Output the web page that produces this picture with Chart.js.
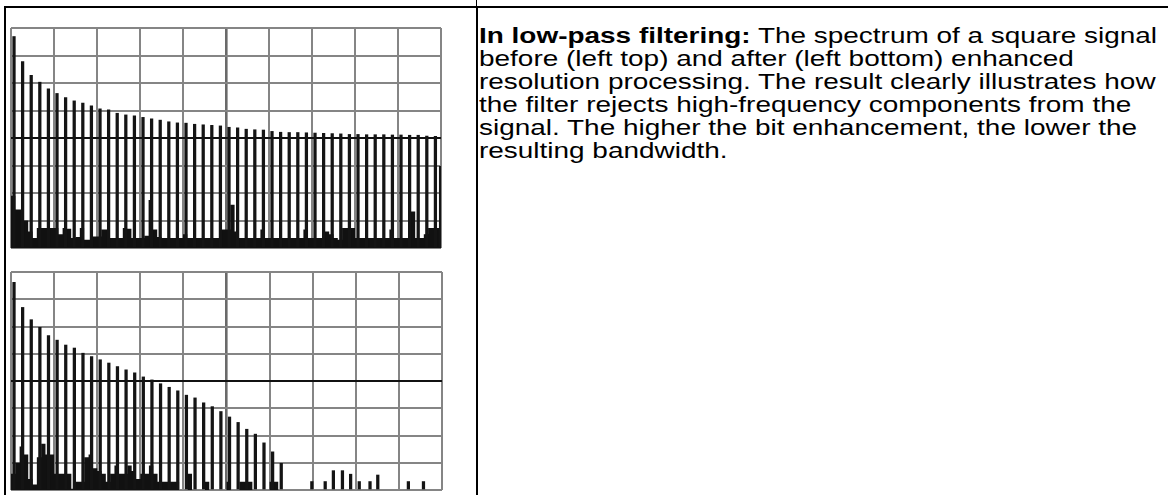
<!DOCTYPE html>
<html>
<head>
<meta charset="utf-8">
<script src="https://cdn.jsdelivr.net/npm/chart.js@4.4.1/dist/chart.umd.min.js"></script>
<style>
  body { margin:0; background:#fff; width:1168px; height:495px; overflow:hidden; position:relative;
         font-family:"Liberation Sans", Arial, Helvetica, sans-serif; }
  .rule { position:absolute; background:#000; }
  #topWrap { position:absolute; left:9px; top:26px; width:434px; height:224px; }
  #botWrap { position:absolute; left:9px; top:270px; width:435px; height:222px; }
  #caption { position:absolute; left:479px; top:24px; font-size:22px; line-height:23px; color:#000;
             white-space:nowrap; transform-origin:0 0; transform:scaleX(1.27); }
</style>
</head>
<body>
<div class="rule" style="left:4px;top:6px;width:1164px;height:2px"></div>
<div class="rule" style="left:4px;top:6px;width:2px;height:489px"></div>
<div class="rule" style="left:476px;top:0;width:1px;height:6px"></div>
<div class="rule" style="left:476px;top:6px;width:2px;height:489px"></div>

<div id="topWrap"><canvas id="topChart"></canvas></div>
<div id="botWrap"><canvas id="botChart"></canvas></div>

<div id="caption"><b>In low-pass filtering:</b> The spectrum of a square signal<br>before (left top) and after (left bottom) enhanced<br>resolution processing. The result clearly illustrates how<br>the filter rejects high-frequency components from the<br>signal. The higher the bit enhancement, the lower the<br>resulting bandwidth.</div>

<script>
// frequency axis in grid divisions (0..10), level axis in divisions (0..8)
const harmonicFreq = [0.07,0.27,0.47,0.67,0.87,1.07,1.27,1.47,1.67,1.87,2.07,2.27,2.47,2.67,2.87,3.07,3.27,3.47,3.67,3.87,
  4.07,4.27,4.47,4.67,4.87,5.07,5.27,5.47,5.67,5.87,6.07,6.27,6.47,6.67,6.87,7.07,7.27,7.47,7.67,7.87,
  8.07,8.27,8.47,8.67,8.87,9.07,9.27,9.47,9.67,9.87,9.99];

// before: square signal spectrum
const beforeLevels = [7.69,6.78,6.28,6.03,5.79,5.62,5.47,5.35,5.27,5.17,5.06,5.02,4.90,4.84,4.81,4.75,4.70,4.65,4.59,4.55,
  4.54,4.50,4.48,4.46,4.44,4.39,4.37,4.32,4.30,4.29,4.24,4.21,4.20,4.20,4.19,4.18,4.17,4.16,4.15,4.13,
  4.13,4.12,4.12,4.12,4.11,4.11,4.10,4.10,4.07,4.06,2.97];

// after: enhanced resolution (low-pass)
const afterLevels = [7.62,6.70,6.25,5.97,5.67,5.50,5.32,5.21,5.02,4.90,4.78,4.66,4.53,4.41,4.30,4.15,4.04,3.90,3.77,3.64,
  3.48,3.38,3.20,3.06,2.88,2.68,2.48,2.23,2.05,1.73,1.40,0.98];

const spurFreq = [6.98,7.29,7.48,7.69,7.88,8.08,8.33,8.51,9.22,9.57];
const spurLevels = [0.31,0.31,0.71,0.71,0.58,0.31,0.31,0.55,0.31,0.31];

const noiseFreq = [0,0.1,0.2,0.3,0.4,0.5,0.6,0.7,0.8,0.9,1,1.1,1.2,1.3,1.4,1.5,1.6,1.7,1.8,1.9,
  2,2.1,2.2,2.3,2.4,2.5,2.6,2.7,2.8,2.9,3,3.1,3.2,3.3,3.4,3.5,3.6,3.7,3.8,3.9,
  4,4.1,4.2,4.3,4.4,4.5,4.6,4.7,4.8,4.9,5,5.1,5.2,5.3,5.4,5.5,5.6,5.7,5.8,5.9,
  6,6.1,6.2,6.3,6.4,6.5,6.6,6.7,6.8,6.9,7,7.1,7.2,7.3,7.4,7.5,7.6,7.7,7.8,7.9,
  8,8.1,8.2,8.3,8.4,8.5,8.6,8.7,8.8,8.9,9,9.1,9.2,9.3,9.4,9.5,9.6,9.7,9.8,9.9,10];

const beforeNoise = [2.2,1.9,1.4,1.4,1.0,0.6,0.36,0.73,0.73,0.73,0.73,0.73,0.5,0.73,0.7,0.36,0.4,0.73,0.3,0.3,
  0.42,0.42,0.67,0.67,0.36,0.36,0.36,0.73,0.7,0.36,0.36,0.36,0.45,1.75,0.67,0.4,0.36,0.36,0.36,0.36,
  0.36,0.5,0.36,0.36,0.36,0.36,0.36,0.36,0.36,0.36,0.67,0.67,1.57,0.6,0.36,0.36,0.36,0.36,0.36,0.67,
  0.36,0.36,0.36,0.36,0.36,0.36,0.36,0.36,0.36,0.67,0.36,0.36,0.36,0.36,0.6,0.5,0.36,0.3,0.73,0.73,
  0.73,0.36,0.36,0.36,0.36,0.36,0.36,0.36,0.36,0.67,0.36,0.36,0.36,0.36,1.33,0.36,0.36,0.5,0.73,0.73,0.73];

const afterNoise = [1.6,0.6,1.0,1.6,1.3,0.4,0.2,1.2,1.7,1.3,1.3,0.6,0.6,0.6,0.6,0.05,0.3,0.3,1.2,1.3,
  0.8,0.7,0.6,0.3,0.6,0.9,0.6,0.6,0.9,0.7,0.4,0.6,0.6,0.9,0.6,0.3,0.3,0.3,0.3,0.3,
  0,0,0.6,0,0,0,0.3,0,0,0,0,0.3,0,0,0.3,0.3,0.3,0,0,0,
  0,0.3,0.3,0,0,0,0,0,0,0,0,0,0,0,0,0,0,0,0,0,
  0,0,0,0,0,0,0,0,0,0,0,0,0,0,0,0,0,0,0,0,0];

function pts(xs, ys) {
  return ys.map((y, i) => ({ x: xs[i], y: y }));
}

function lineSet(xs, ys) {
  return {
    type: 'bar', data: pts(xs, ys), backgroundColor: '#141414',
    barThickness: 2.6, grouped: false, order: 1
  };
}

function noiseSet(ys) {
  return {
    type: 'line', data: pts(noiseFreq, ys), stepped: 'after', fill: 'origin',
    backgroundColor: '#111', borderWidth: 0, pointRadius: 0, order: 2
  };
}

function makeChart(id, datasets) {
  return new Chart(document.getElementById(id), {
    type: 'bar',
    data: { datasets: datasets },
    options: {
      responsive: true,
      maintainAspectRatio: false,
      animation: false,
      layout: { padding: 2 },
      plugins: { legend: { display: false }, tooltip: { enabled: false } },
      scales: {
        x: {
          type: 'linear', min: 0, max: 10, offset: false,
          ticks: { display: false, stepSize: 1 },
          grid: {
            drawTicks: false, offset: false,
            color: c => c.tick && c.tick.value === 5 ? '#6a6a6a' : '#858585',
            lineWidth: c => c.tick && c.tick.value === 5 ? 2.6 : 2
          },
          border: { display: false }
        },
        y: {
          min: 0, max: 8,
          ticks: { display: false, stepSize: 1 },
          grid: {
            drawTicks: false,
            color: c => c.tick && c.tick.value === 4 ? '#111' : '#858585',
            lineWidth: 2
          },
          border: { display: false }
        }
      }
    }
  });
}

makeChart('topChart', [lineSet(harmonicFreq, beforeLevels), noiseSet(beforeNoise)]);
makeChart('botChart', [lineSet(harmonicFreq, afterLevels), lineSet(spurFreq, spurLevels), noiseSet(afterNoise)]);
</script>
</body>
</html>
